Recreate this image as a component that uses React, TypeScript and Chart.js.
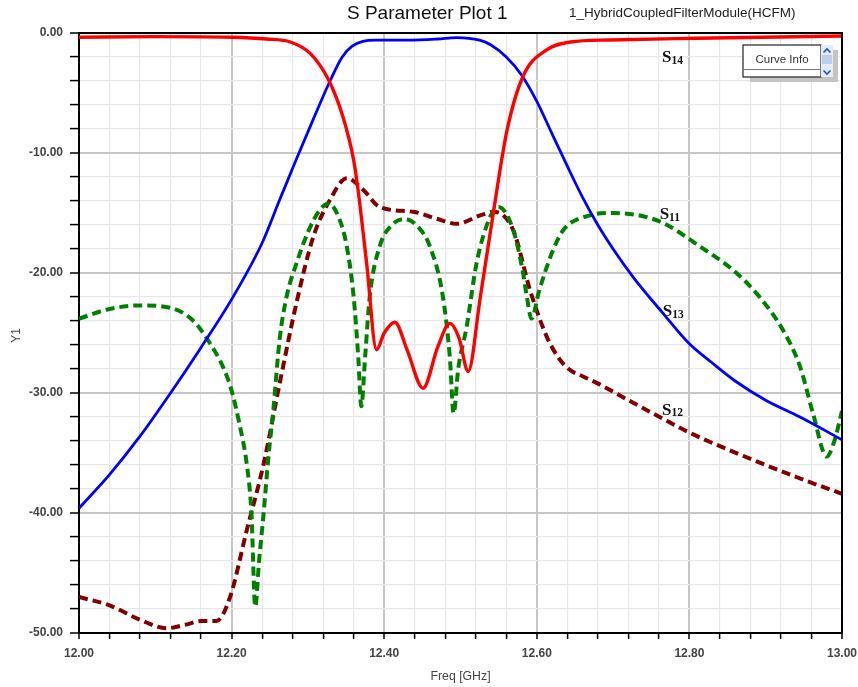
import React, { useEffect, useRef } from 'react';
import { Chart, registerables } from 'chart.js';

Chart.register(...registerables);

// ---------- data ----------
const s14Freq = [12.0, 12.1, 12.2, 12.246, 12.277, 12.303, 12.327, 12.346, 12.36, 12.366, 12.377, 12.39, 12.4, 12.414, 12.43, 12.451, 12.47, 12.486, 12.498, 12.51, 12.526, 12.543, 12.561, 12.582, 12.613, 12.644, 12.696, 12.81, 13.0];
const s14Db = [-0.35, -0.3, -0.35, -0.5, -0.75, -1.7, -3.9, -7.0, -10.6, -13.2, -19.2, -26.4, -25.0, -24.1, -26.4, -29.6, -26.2, -24.2, -25.4, -28.2, -22.0, -15.0, -8.1, -3.6, -1.4, -0.75, -0.58, -0.44, -0.25];

const s13Freq = [12.0, 12.04, 12.08, 12.12, 12.16, 12.2, 12.24, 12.263, 12.285, 12.307, 12.329, 12.345, 12.358, 12.372, 12.39, 12.43, 12.47, 12.495, 12.525, 12.54, 12.56, 12.58, 12.6, 12.62, 12.64, 12.66, 12.68, 12.7, 12.727, 12.766, 12.8, 12.83, 12.86, 12.9, 12.945, 13.0];
const s13Db = [-39.6, -36.8, -33.6, -30.0, -26.2, -22.2, -17.5, -13.9, -10.5, -7.2, -4.0, -2.0, -1.1, -0.7, -0.6, -0.6, -0.5, -0.38, -0.6, -1.0, -2.0, -3.5, -5.7, -8.4, -11.1, -13.7, -16.0, -18.0, -20.4, -23.4, -25.9, -27.5, -29.0, -30.6, -32.0, -33.9];

const s11Freq = [12.0, 12.04, 12.08, 12.12, 12.15, 12.172, 12.19, 12.2, 12.21, 12.22, 12.226, 12.231, 12.236, 12.242, 12.248, 12.255, 12.263, 12.272, 12.285, 12.3, 12.315, 12.327, 12.34, 12.351, 12.36, 12.366, 12.37, 12.375, 12.381, 12.394, 12.41, 12.427, 12.445, 12.46, 12.477, 12.486, 12.491, 12.497, 12.508, 12.521, 12.539, 12.55, 12.569, 12.582, 12.587, 12.593, 12.603, 12.62, 12.635, 12.67, 12.7, 12.761, 12.814, 12.858, 12.892, 12.923, 12.945, 12.962, 12.98, 12.99, 13.0];
const s11Db = [-23.8, -23.0, -22.7, -22.9, -24.0, -25.9, -28.0, -29.8, -32.5, -36.0, -40.0, -47.8, -44.0, -40.0, -35.5, -31.2, -25.5, -22.0, -19.2, -16.6, -14.8, -14.2, -15.3, -17.8, -22.0, -27.0, -31.1, -27.0, -22.0, -17.8, -16.0, -15.5, -16.2, -17.8, -22.0, -27.0, -31.7, -28.0, -24.5, -19.2, -15.3, -14.5, -16.4, -20.0, -22.0, -23.8, -21.5, -18.3, -16.4, -15.2, -15.0, -15.7, -17.8, -19.8, -22.0, -24.8, -27.8, -31.7, -35.3, -34.0, -31.5];

const s12Freq = [12.0, 12.04, 12.08, 12.115, 12.14, 12.16, 12.18, 12.198, 12.22, 12.242, 12.263, 12.285, 12.307, 12.329, 12.351, 12.373, 12.394, 12.438, 12.47, 12.495, 12.526, 12.543, 12.569, 12.591, 12.613, 12.63, 12.644, 12.66, 12.683, 12.72, 12.761, 12.8, 12.85, 12.94, 13.0];
const s12Db = [-47.0, -47.7, -48.9, -49.6, -49.3, -49.0, -49.0, -47.0, -41.4, -35.9, -29.2, -22.5, -17.0, -13.9, -12.1, -13.1, -14.5, -14.9, -15.5, -15.9, -15.2, -14.9, -16.4, -21.4, -25.3, -27.2, -28.1, -28.6, -29.3, -30.6, -32.0, -33.3, -34.7, -37.0, -38.4];

const xTickLabels = ['12.00', '12.20', '12.40', '12.60', '12.80', '13.00'];
const yTickLabels = ['-50.00', '-40.00', '-30.00', '-20.00', '-10.00', '0.00'];
const xMinorStep = 0.04;
const yMinorStep = 2;

// curve annotation anchors (freq, dB) and subscripts
const curveLabelSubs = ['14', '11', '13', '12'];
const curveLabelFreq = [12.764, 12.761, 12.765, 12.764];
const curveLabelDb = [-2.42, -15.5, -23.6, -31.8];

const chartTitle = 'S Parameter Plot 1';
const chartSubtitle = '1_HybridCoupledFilterModule(HCFM)';
const xTitle = 'Freq [GHz]';
const yTitle = 'Y1';

const pts = (f: number[], d: number[]) => f.map((x, i) => ({ x, y: d[i] }));

const isMajor = (v: number, step: number) => Math.abs(v / step - Math.round(v / step)) < 1e-6;

const SANS = '"Liberation Sans", Arial, sans-serif';
const SERIF = '"Liberation Serif", "Times New Roman", serif';

const overlayPlugin = {
  id: 'overlay',
  afterDatasetsDraw(chart: any) {
    const { ctx, chartArea: a, scales } = chart;
    ctx.save();
    // top & right frame
    ctx.strokeStyle = '#000';
    ctx.lineWidth = 2;
    ctx.beginPath();
    ctx.moveTo(a.left, a.top);
    ctx.lineTo(a.right, a.top);
    ctx.lineTo(a.right, a.bottom);
    ctx.stroke();

    // titles
    ctx.fillStyle = '#111';
    ctx.textBaseline = 'alphabetic';
    ctx.textAlign = 'left';
    ctx.font = `19px ${SANS}`;
    ctx.fillText(chartTitle, 347, 18.5);
    ctx.font = `13.5px ${SANS}`;
    ctx.fillStyle = '#222';
    ctx.fillText(chartSubtitle, 569, 16.5);

    // axis titles
    ctx.fillStyle = '#444';
    ctx.font = `12.3px ${SANS}`;
    ctx.textAlign = 'center';
    ctx.fillText(xTitle, (a.left + a.right) / 2, 680);
    ctx.save();
    ctx.translate(20, 335.5);
    ctx.rotate(-Math.PI / 2);
    ctx.font = `12px ${SANS}`;
    ctx.textAlign = 'center';
    ctx.fillText(yTitle, 0, 0);
    ctx.restore();

    // curve labels
    ctx.textAlign = 'left';
    ctx.fillStyle = '#111';
    curveLabelSubs.forEach((sub, i) => {
      const px = scales.x.getPixelForValue(curveLabelFreq[i]);
      const py = scales.y.getPixelForValue(curveLabelDb[i]);
      ctx.font = `bold 17px ${SERIF}`;
      ctx.fillText('S', px, py);
      const w = ctx.measureText('S').width;
      ctx.font = `bold 11.5px ${SERIF}`;
      ctx.fillText(sub, px + w, py + 1.5);
    });

    // Curve Info box
    ctx.fillStyle = '#c4c4c4';
    ctx.fillRect(750, 50, 88, 32);
    ctx.fillStyle = '#fff';
    ctx.fillRect(743, 45, 78, 32);
    ctx.strokeStyle = '#333';
    ctx.lineWidth = 1.3;
    ctx.strokeRect(743, 45, 78, 32);
    ctx.strokeStyle = '#777';
    ctx.lineWidth = 1;
    ctx.beginPath();
    ctx.moveTo(743, 69.5);
    ctx.lineTo(821, 69.5);
    ctx.stroke();
    ctx.fillStyle = '#333';
    ctx.font = `11.5px ${SANS}`;
    ctx.textAlign = 'center';
    ctx.textBaseline = 'middle';
    ctx.fillText('Curve Info', 782, 59.5);
    // scrollbar
    ctx.fillStyle = '#e3ecf7';
    ctx.fillRect(821, 45, 12, 32);
    ctx.fillStyle = '#b9d0ec';
    ctx.fillRect(822, 55, 10, 9);
    ctx.strokeStyle = '#1a56c4';
    ctx.lineWidth = 1.6;
    ctx.beginPath();
    ctx.moveTo(823.5, 52.5);
    ctx.lineTo(827, 49);
    ctx.lineTo(830.5, 52.5);
    ctx.moveTo(823.5, 70.5);
    ctx.lineTo(827, 74);
    ctx.lineTo(830.5, 70.5);
    ctx.stroke();
    ctx.restore();
  },
};

function App() {
  const ref = useRef<HTMLCanvasElement | null>(null);

  useEffect(() => {
    document.body.style.margin = '0';
    document.body.style.background = '#fff';
    const canvas = ref.current;
    if (!canvas) return;

    const xGrid: number[] = [];
    for (let i = 0; i <= Math.round(1 / xMinorStep); i++) xGrid.push(+(12 + i * xMinorStep).toFixed(4));
    const yGrid: number[] = [];
    for (let i = 0; i <= Math.round(50 / yMinorStep); i++) yGrid.push(-50 + i * yMinorStep);

    const gridColor = (step: number) => (c: any) =>
      c.tick && isMajor(c.tick.value, step) ? '#c6c6c6' : '#e8e8e8';
    const gridWidth = (step: number) => (c: any) =>
      c.tick && isMajor(c.tick.value, step) ? 2 : 1.2;

    const line = (label: string, f: number[], d: number[], color: string, width: number, dash: number[]) => ({
      label,
      data: pts(f, d),
      borderColor: color,
      backgroundColor: color,
      borderWidth: width,
      borderDash: dash,
      pointRadius: 0,
      fill: false,
      cubicInterpolationMode: 'monotone' as const,
      borderCapStyle: 'butt' as const,
    });

    const chart = new Chart(canvas, {
      type: 'line',
      data: {
        datasets: [
          line('S14', s14Freq, s14Db, '#ff0000', 3.4, []),
          line('S13', s13Freq, s13Db, '#0000ff', 2.8, []),
          line('S11', s11Freq, s11Db, '#008000', 4, [9, 5]),
          line('S12', s12Freq, s12Db, '#800000', 4, [9, 5]),
        ],
      },
      options: {
        responsive: false,
        animation: false,
        layout: { padding: { left: 0, right: 16, top: 33, bottom: 0 } },
        plugins: { legend: { display: false }, tooltip: { enabled: false }, title: { display: false } },
        scales: {
          x: {
            type: 'linear',
            min: 12,
            max: 13,
            afterBuildTicks: (s: any) => {
              s.ticks = xGrid.map((v) => ({ value: v }));
            },
            afterFit: (s: any) => {
              s.height = 54;
              s.paddingLeft = 0;
              s.paddingRight = 0;
            },
            ticks: {
              autoSkip: false,
              maxRotation: 0,
              minRotation: 0,
              padding: 7,
              color: '#444',
              font: { family: SANS, size: 12, weight: 'bold' },
              callback: (v: any) => xTickLabels.find((t) => Math.abs(parseFloat(t) - Number(v)) < 1e-6) ?? '',
            },
            grid: {
              color: gridColor(0.2),
              lineWidth: gridWidth(0.2),
              tickLength: 6,
              tickColor: '#000',
              tickWidth: 1.5,
            },
            border: { color: '#000', width: 2 },
          },
          y: {
            type: 'linear',
            min: -50,
            max: 0,
            afterBuildTicks: (s: any) => {
              s.ticks = yGrid.map((v) => ({ value: v }));
            },
            afterFit: (s: any) => {
              s.width = 79;
              s.paddingTop = 0;
              s.paddingBottom = 0;
            },
            ticks: {
              autoSkip: false,
              padding: 7,
              color: '#444',
              font: { family: SANS, size: 12, weight: 'bold' },
              callback: (v: any) => yTickLabels.find((t) => Math.abs(parseFloat(t) - Number(v)) < 1e-6) ?? '',
            },
            grid: {
              color: gridColor(10),
              lineWidth: gridWidth(10),
              tickLength: 9,
              tickColor: '#000',
              tickWidth: 1.5,
            },
            border: { color: '#000', width: 2 },
          },
        },
      },
      plugins: [overlayPlugin],
    } as any);

    return () => chart.destroy();
  }, []);

  return <canvas ref={ref} width={858} height={687} style={{ display: 'block', width: 858, height: 687 }} />;
}

export default App;
